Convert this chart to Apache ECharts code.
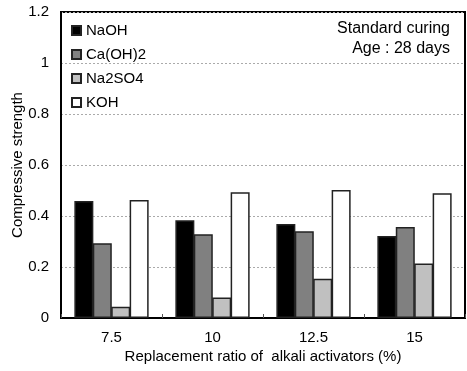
<!DOCTYPE html>
<html><head><meta charset="utf-8">
<script src="https://cdn.jsdelivr.net/npm/echarts@6/dist/echarts.min.js"></script>
<style>html,body{margin:0;padding:0;background:#fff}#c{width:467px;height:371px}</style>
</head><body><div id="c"></div>
<script>
const categories = ['7.5', '10', '12.5', '15'];
const naoh = [0.459, 0.383, 0.369, 0.322];
const caoh2 = [0.293, 0.328, 0.340, 0.357];
const na2so4 = [0.044, 0.080, 0.154, 0.214];
const koh = [0.463, 0.493, 0.502, 0.489];
const seriesNames = ['NaOH', 'Ca(OH)2', 'Na2SO4', 'KOH'];
const fills = ['#000000', '#808080', '#c0c0c0', '#ffffff'];
const font = 'Liberation Sans, Arial, sans-serif';

const chart = echarts.init(document.getElementById('c'));
const dataSets = [naoh, caoh2, na2so4, koh];
chart.setOption({
  animation: false,
  grid: { left: 61, right: 2, top: 12, bottom: 53, containLabel: false, outerBoundsMode: 'none', show: true, borderColor: '#000', borderWidth: 2, backgroundColor: 'transparent' },
  legend: {
    orient: 'vertical', left: 66, top: 18, itemWidth: 9, itemHeight: 9, itemGap: 9,
    icon: 'rect',
    textStyle: { fontFamily: font, fontSize: 15, color: '#000', padding: [0, 0, 0, 0] },
    data: seriesNames
  },
  graphic: [
    { type: 'text', right: 17, top: 21, style: { text: 'Standard curing', font: '16px ' + font, fill: '#000', textAlign: 'right' } },
    { type: 'text', right: 17, top: 41, style: { text: 'Age : 28 days', font: '16px ' + font, fill: '#000', textAlign: 'right' } }
  ],
  xAxis: {
    type: 'category', data: categories,
    name: 'Replacement ratio of  alkali activators (%)', nameLocation: 'middle', nameGap: 31, nameMoveOverlap: false,
    nameTextStyle: { fontFamily: font, fontSize: 15, color: '#000' },
    axisLine: { lineStyle: { color: '#000', width: 2 } },
    axisTick: { show: true, inside: true, length: 4, lineStyle: { color: '#555' } },
    axisLabel: { fontFamily: font, fontSize: 15, color: '#000', margin: 12 }
  },
  yAxis: {
    type: 'value', min: 0, max: 1.2, interval: 0.2,
    name: 'Compressive strength', nameLocation: 'middle', nameGap: 36, nameMoveOverlap: false,
    nameTextStyle: { fontFamily: font, fontSize: 15, color: '#000' },
    axisLine: { show: true, lineStyle: { color: '#000', width: 2 } },
    axisTick: { show: false },
    axisLabel: { fontFamily: font, fontSize: 15, color: '#000', margin: 12, formatter: v => String(Math.round(v * 10) / 10) },
    splitLine: { show: true, lineStyle: { color: '#aaa', type: [2, 2], width: 1 } }
  },
  series: seriesNames.map((n, i) => ({
    name: n, type: 'bar', data: dataSets[i],
    barGap: '-3%', barWidth: 19,
    itemStyle: { color: fills[i], borderColor: '#222', borderWidth: 1.5 }
  }))
});
</script></body></html>
